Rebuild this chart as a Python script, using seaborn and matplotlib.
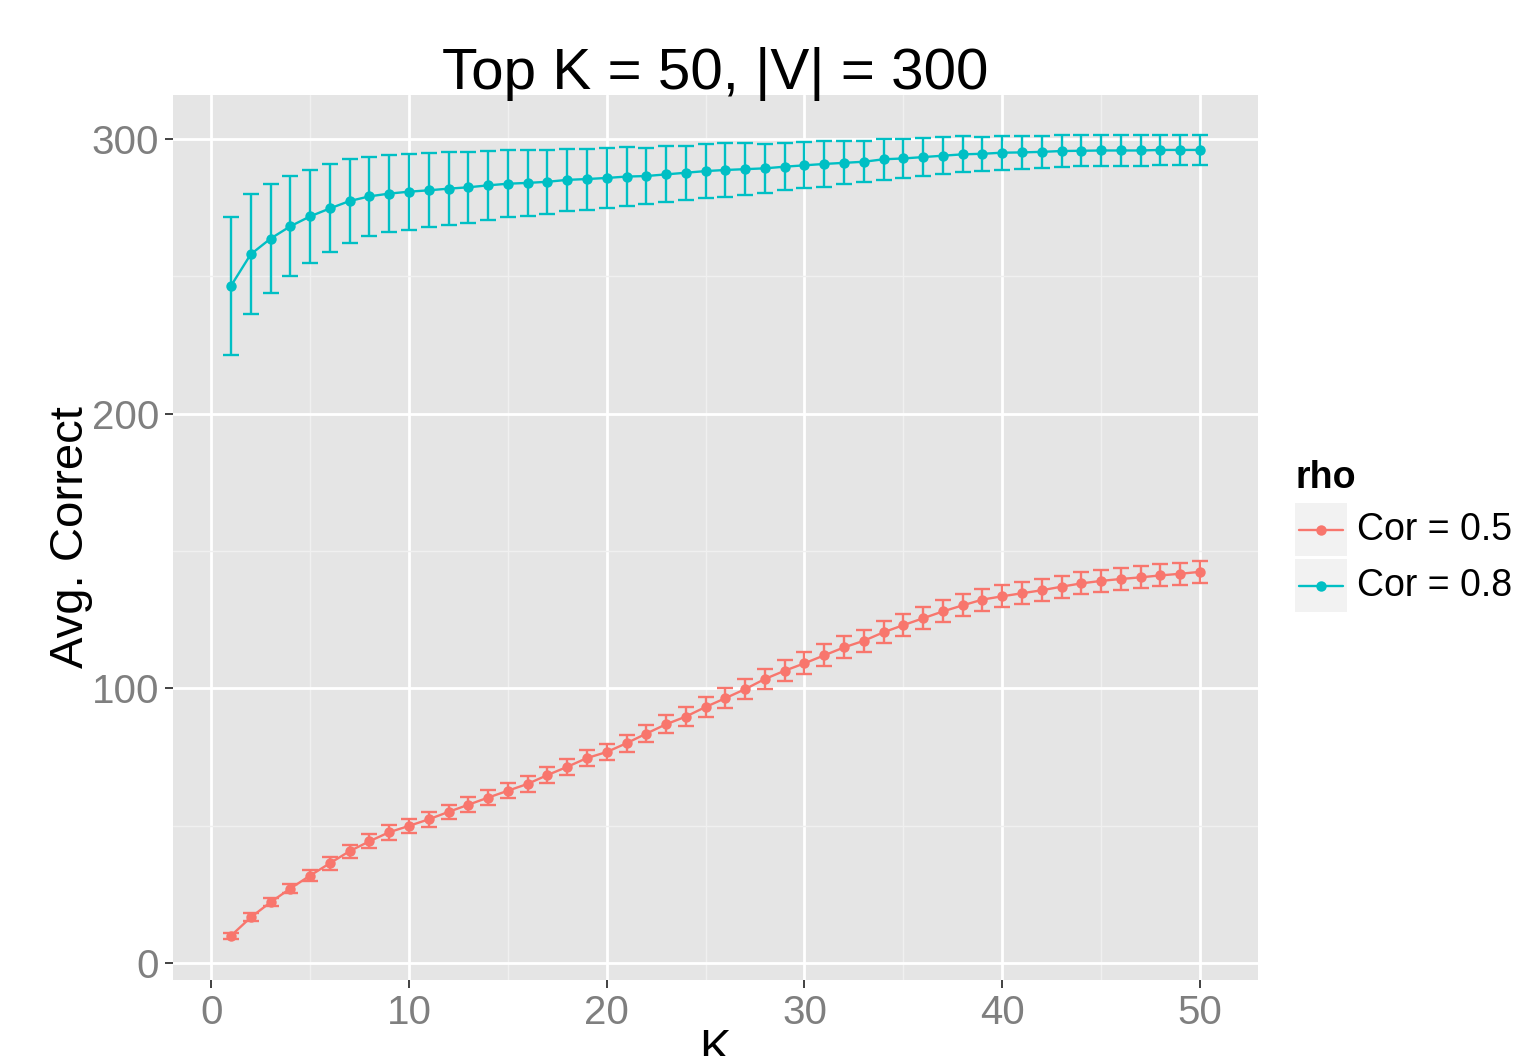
import matplotlib
matplotlib.use("Agg")
import matplotlib.pyplot as plt
from matplotlib.lines import Line2D
from matplotlib.patches import Rectangle
import pandas as pd
import seaborn as sns

# values
k_values = list(range(1, 51))

cor05_mean = [9.9, 16.6, 22.1, 27.1, 31.8, 36.3, 40.7, 44.3, 47.6, 49.9,
              52.3, 55.0, 57.6, 60.2, 62.7, 65.2, 68.4, 71.4, 74.6, 76.8,
              80.0, 83.5, 86.9, 89.7, 93.2, 96.4, 99.7, 103.4, 106.4, 109.1,
              112.0, 114.9, 117.3, 120.4, 123.0, 125.5, 128.0, 130.2, 132.3, 133.5,
              134.6, 135.7, 137.0, 138.2, 139.1, 139.8, 140.4, 141.1, 141.7, 142.4]
cor05_err = [1.0, 1.5, 1.5, 1.6, 2.1, 2.3, 2.4, 2.6, 2.7, 2.6,
             2.7, 2.6, 2.7, 2.6, 2.8, 2.8, 2.9, 2.9, 3.0, 2.9,
             3.1, 3.2, 3.3, 3.4, 3.5, 3.6, 3.7, 3.8, 3.9, 4.0,
             4.0, 4.0, 4.0, 4.0, 4.0, 4.0, 4.0, 4.0, 4.0, 4.0,
             4.0, 4.0, 4.0, 4.0, 4.0, 4.0, 4.0, 4.0, 4.0, 4.0]

cor08_mean = [246.5, 258.0, 263.7, 268.2, 271.8, 274.7, 277.4, 279.1, 280.1, 280.8,
              281.3, 281.9, 282.4, 283.1, 283.7, 284.0, 284.4, 285.1, 285.4, 285.8,
              286.3, 286.5, 287.1, 287.7, 288.3, 288.7, 289.0, 289.3, 289.9, 290.4,
              290.9, 291.3, 291.7, 292.6, 292.9, 293.4, 293.9, 294.4, 294.6, 295.0,
              295.1, 295.3, 295.6, 295.7, 295.8, 295.8, 295.8, 296.0, 296.0, 296.0]
cor08_err = [25.0, 21.8, 19.8, 18.2, 17.0, 16.0, 15.2, 14.5, 14.1, 13.8,
             13.5, 13.3, 12.9, 12.5, 12.2, 12.0, 11.6, 11.3, 11.1, 10.8,
             10.7, 10.3, 10.2, 9.9, 9.8, 9.7, 9.4, 8.8, 8.6, 8.4,
             8.3, 7.8, 7.5, 7.5, 7.1, 6.9, 6.7, 6.6, 6.2, 6.2,
             5.9, 5.8, 5.7, 5.6, 5.5, 5.5, 5.5, 5.5, 5.5, 5.5]

series_labels = ["Cor = 0.5", "Cor = 0.8"]
colors = {"Cor = 0.5": "#F8766D", "Cor = 0.8": "#00BFC4"}

df = pd.concat([
    pd.DataFrame({"K": k_values, "mean": cor05_mean, "err": cor05_err, "rho": series_labels[0]}),
    pd.DataFrame({"K": k_values, "mean": cor08_mean, "err": cor08_err, "rho": series_labels[1]}),
])

sns.set_theme(style="darkgrid", rc={
    "axes.facecolor": "#E5E5E5",
    "grid.color": "white",
    "axes.edgecolor": "none",
    "text.color": "black",
    "axes.labelcolor": "black",
})
plt.rcParams["font.family"] = ["Liberation Sans", "DejaVu Sans"]

W, H = 1520, 1056
fig = plt.figure(figsize=(W / 100, H / 100), dpi=100)
ax = fig.add_axes([173 / W, 1 - 980 / H, (1258 - 173) / W, (980 - 95) / H])

def px(x, y):
    return x / W, 1 - y / H

for label in series_labels:
    sub = df[df["rho"] == label]
    ax.errorbar(sub["K"], sub["mean"], yerr=sub["err"], fmt="none",
                ecolor=colors[label], elinewidth=1.7, capsize=6.1, capthick=1.7, zorder=3)

sns.lineplot(data=df, x="K", y="mean", hue="rho", palette=colors, marker="o",
             markersize=7.5, markeredgewidth=0, linewidth=1.7, legend=False, ax=ax, zorder=4)

ax.set_xlim(-1.93, 52.93)
ax.set_ylim(-6.2, 316.0)
ax.set_xticks([0, 10, 20, 30, 40, 50])
ax.set_yticks([0, 100, 200, 300])
ax.set_xticks([5, 15, 25, 35, 45], minor=True)
ax.set_yticks([50, 150, 250], minor=True)
ax.grid(which="major", color="white", linewidth=2.0)
ax.grid(which="minor", color="#F0F0F0", linewidth=1.0)
ax.tick_params(which="major", length=6, width=1.3, color="#333333",
               labelsize=29, labelcolor="#7F7F7F", pad=4, bottom=True, left=True)
ax.tick_params(which="minor", length=0)
ax.set_xlabel("")
ax.set_ylabel("Avg. Correct", fontsize=34, color="black", labelpad=-1)
ax.set_title("Top K = 50, |V| = 300", fontsize=42, color="black", pad=4)

# x label sits partly below the bottom edge, as in the reference
fig.text(*px(715, 1028), "K", fontsize=34, color="black", ha="center", va="top")

# legend drawn by hand with ggplot-style grey key boxes
fig.text(*px(1295, 488), "rho", fontsize=27, fontweight="bold", color="black",
         ha="left", va="baseline")
for i, label in enumerate(series_labels):
    top = 503 + i * 56
    x0, y0 = px(1295, top + 53)
    fig.patches.append(Rectangle((x0, y0), 52 / W, 53 / H, transform=fig.transFigure,
                                 facecolor="#F2F2F2", edgecolor="none"))
    xa, yc = px(1299, top + 27)
    xb, _ = px(1343, top + 27)
    fig.lines.append(Line2D([xa, xb], [yc, yc], transform=fig.transFigure,
                            color=colors[label], linewidth=1.7))
    xm, _ = px(1321, top + 27)
    fig.lines.append(Line2D([xm], [yc], transform=fig.transFigure, marker="o",
                            markersize=7.5, markeredgewidth=0, color=colors[label]))
    fig.text(*px(1357, top + 27), label, fontsize=27, color="black", ha="left", va="center")

fig.savefig("out.png", dpi=100)
